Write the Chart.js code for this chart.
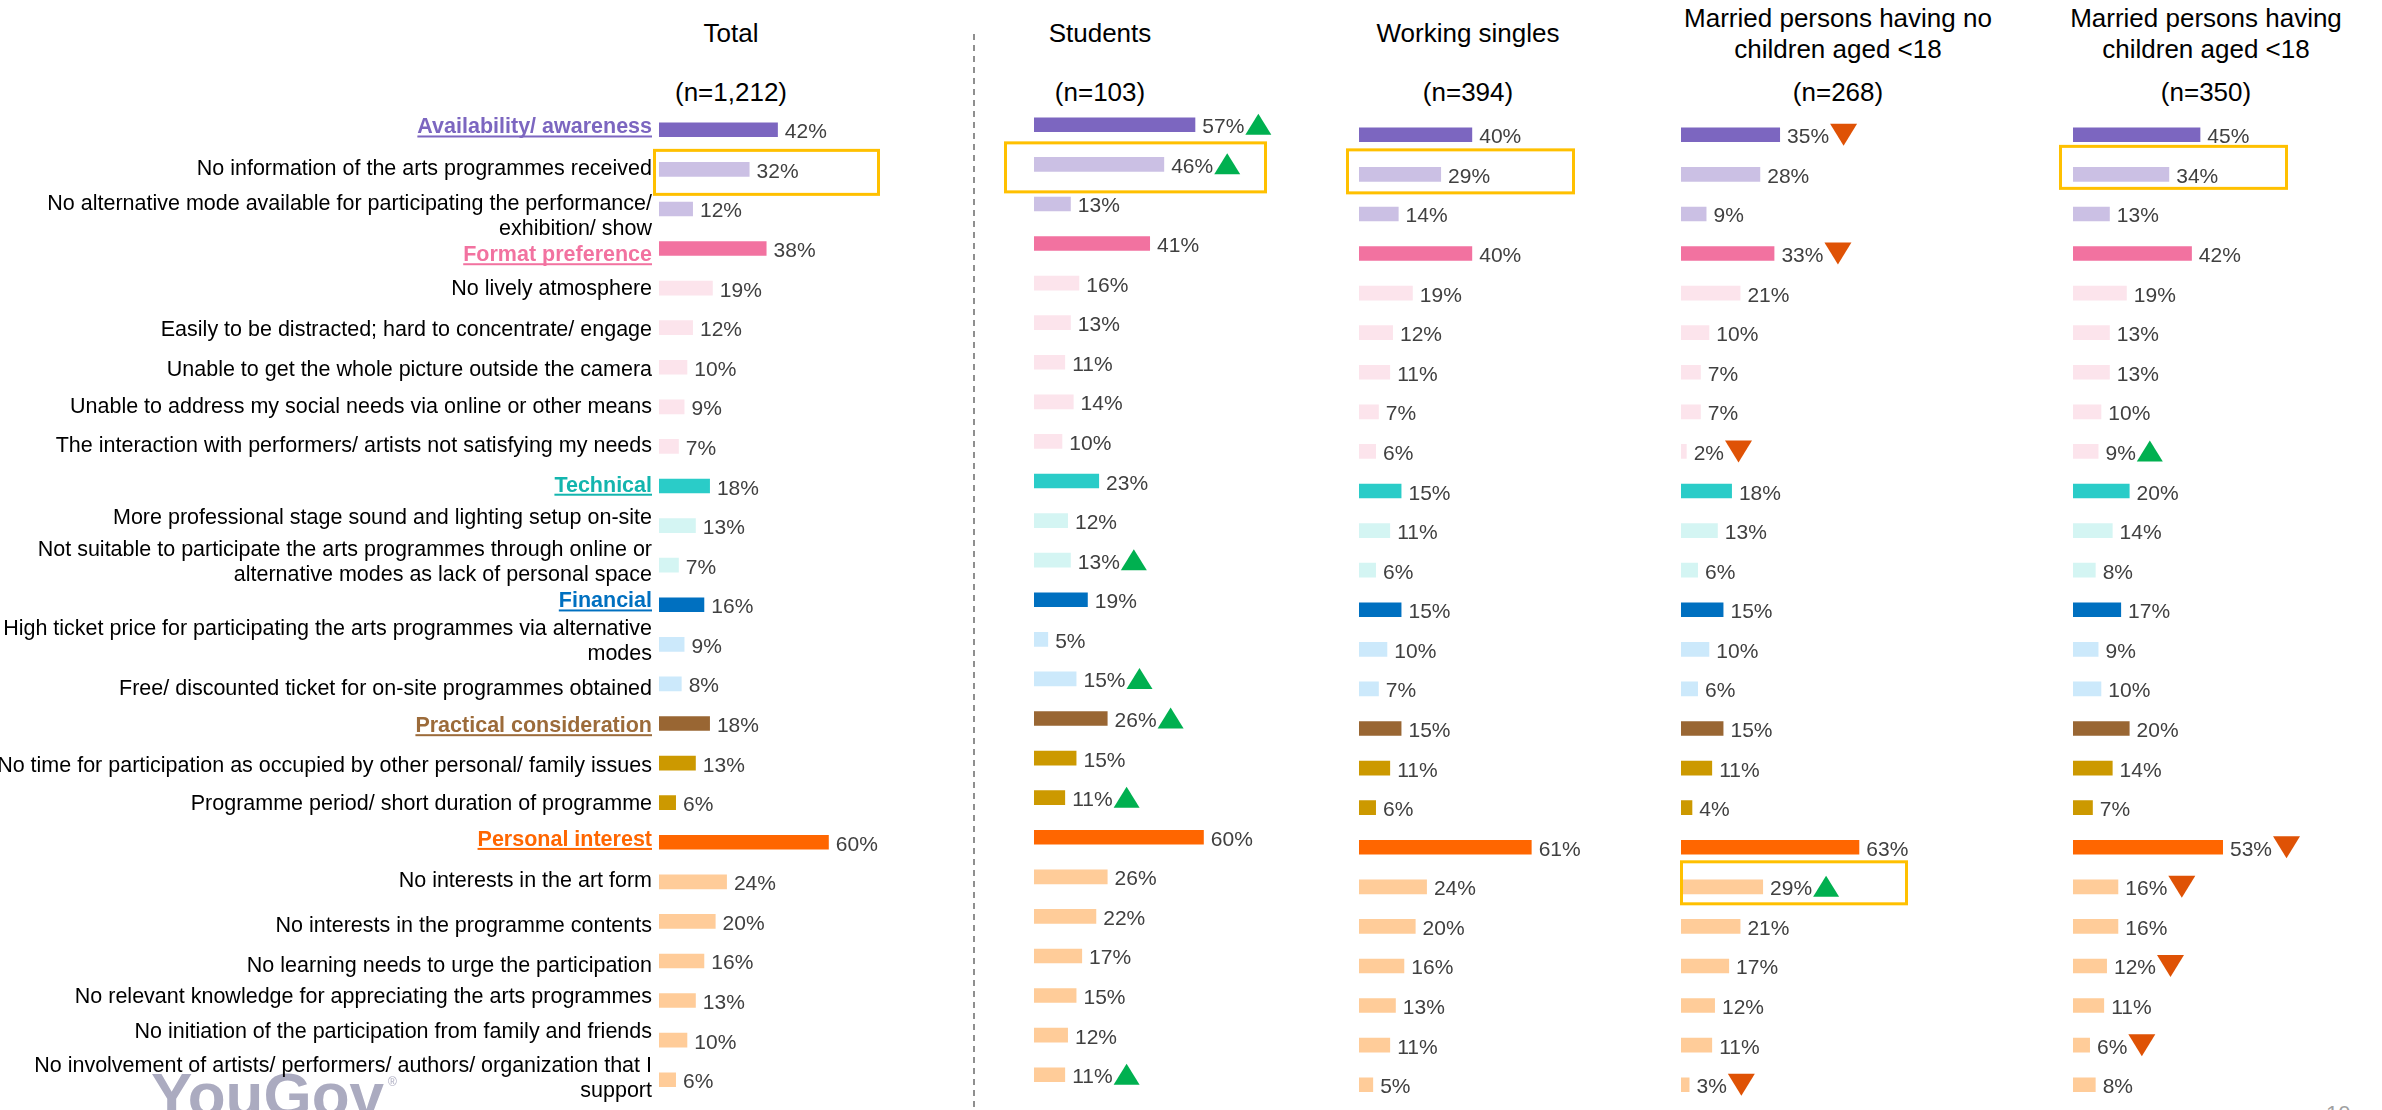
<!DOCTYPE html>
<html><head><meta charset="utf-8">
<script src="https://cdn.jsdelivr.net/npm/chart.js@4.4.1/dist/chart.umd.min.js"></script>
<style>
html,body{margin:0;padding:0;background:#fff;width:2382px;height:1110px;overflow:hidden;position:relative;font-family:"Liberation Sans",Arial,sans-serif;}
.panel{position:absolute;top:0;height:1110px;}
.ttl{position:absolute;width:440px;text-align:center;font-size:26px;line-height:31px;color:#000;white-space:nowrap;}
#divider{position:absolute;left:973px;top:34px;width:2px;height:1076px;background:repeating-linear-gradient(to bottom,#8f8f8f 0 6px,transparent 6px 11px);}
#pageno{position:absolute;left:2326px;top:1101px;font-size:22px;color:#a0a0a0;}
</style></head><body>
<div id="divider"></div>
<div id="pageno">10</div>
<script>
// ---------- DATA ----------
const categories = [
  "Availability/ awareness",
  "No information of the arts programmes received",
  ["No alternative mode available for participating the performance/", "exhibition/ show"],
  "Format preference",
  "No lively atmosphere",
  "Easily to be distracted; hard to concentrate/ engage",
  "Unable to get the whole picture outside the camera",
  "Unable to address my social needs via online or other means",
  "The interaction with performers/ artists not satisfying my needs",
  "Technical",
  "More professional stage sound and lighting setup on-site",
  ["Not suitable to participate the arts programmes through online or", "alternative modes as lack of personal space"],
  "Financial",
  ["High ticket price for participating the arts programmes via alternative", "modes"],
  "Free/ discounted ticket for on-site programmes obtained",
  "Practical consideration",
  "No time for participation as occupied by other personal/ family issues",
  "Programme period/ short duration of programme",
  "Personal interest",
  "No interests in the art form",
  "No interests in the programme contents",
  "No learning needs to urge the participation",
  "No relevant knowledge for appreciating the arts programmes",
  "No initiation of the participation from family and friends",
  ["No involvement of artists/ performers/ authors/ organization that I", "support"]
];
const headerRows = [0, 3, 9, 12, 15, 18];
const rowGroup = [0,0,0, 1,1,1,1,1,1, 2,2,2, 3,3,3, 4,4,4, 5,5,5,5,5,5,5];

const panelTitles = [["Total"], ["Students"], ["Working singles"],
  ["Married persons having no", "children aged <18"], ["Married persons having", "children aged <18"]];
const sampleSizes = ["(n=1,212)", "(n=103)", "(n=394)", "(n=268)", "(n=350)"];

const totalValues        = [42,32,12,38,19,12,10,9,7,18,13,7,16,9,8,18,13,6,60,24,20,16,13,10,6];
const studentValues      = [57,46,13,41,16,13,11,14,10,23,12,13,19,5,15,26,15,11,60,26,22,17,15,12,11];
const workingSingleValues= [40,29,14,40,19,12,11,7,6,15,11,6,15,10,7,15,11,6,61,24,20,16,13,11,5];
const marriedNoChildValues   = [35,28,9,33,21,10,7,7,2,18,13,6,15,10,6,15,11,4,63,29,21,17,12,11,3];
const marriedWithChildValues = [45,34,13,42,19,13,13,10,9,20,14,8,17,9,10,20,14,7,53,16,16,12,11,6,8];

// significance vs total: 1 = higher (up), -1 = lower (down)
const totalSig        = [0,0,0,0,0,0,0,0,0,0,0,0,0,0,0,0,0,0,0,0,0,0,0,0,0];
const studentSig      = [1,1,0,0,0,0,0,0,0,0,0,1,0,0,1,1,0,1,0,0,0,0,0,0,1];
const workingSingleSig= [0,0,0,0,0,0,0,0,0,0,0,0,0,0,0,0,0,0,0,0,0,0,0,0,0];
const marriedNoChildSig   = [-1,0,0,-1,0,0,0,0,-1,0,0,0,0,0,0,0,0,0,0,1,0,0,0,0,-1];
const marriedWithChildSig = [0,0,0,0,0,0,0,0,1,0,0,0,0,0,0,0,0,0,-1,-1,0,-1,0,-1,0];

const highlightRows = [1, 1, 1, 19, 1];

// ---------- STYLE ----------
const FONT = '"Liberation Sans", Arial, sans-serif';
const LABEL_PX = 21.5;
const headerColors = ['#7C66C0','#F272A0','#2ACCC8','#0070C0','#996633','#FF6600'];
const subColors    = ['#CBC0E4','#FCE4EC','#D4F5F3','#CCE9FB','#CC9900','#FFCC99'];
const headerTextColors = ['#7C66C0','#F272A0','#13B5AE','#0070C0','#9C6B3A','#FF6600'];
const barColors = categories.map((c, i) => headerRows.includes(i) ? headerColors[rowGroup[i]] : subColors[rowGroup[i]]);
// vertical nudge of each category label relative to its bar (px)
const labelNudge = [-4,-2.5,6,5,-0.5,1,1,-2,-2.5,-2,-9,-4,-5,-5,3,1,1,0,-4,-3,3,3,-5,-10,-3];

const plotWidth = 283, plotHeight = 989.5;
const panels = [
  {values: totalValues, sig: totalSig, left: 0, width: 960, padL: 659, top: 110, titleX: 731, box: {dx: -6, w: 227, h: 47, dy: 3}, labels: true, logo: true},
  {values: studentValues, sig: studentSig, left: 990, width: 330, padL: 44, top: 105, titleX: 1100, box: {dx: -30, w: 263, h: 52, dy: 3}},
  {values: workingSingleValues, sig: workingSingleSig, left: 1330, width: 330, padL: 29, top: 115, titleX: 1468, box: {dx: -13, w: 229, h: 46, dy: -3}},
  {values: marriedNoChildValues, sig: marriedNoChildSig, left: 1660, width: 350, padL: 21, top: 115, titleX: 1838, box: {dx: -1, w: 228, h: 45, dy: -4}},
  {values: marriedWithChildValues, sig: marriedWithChildSig, left: 2040, width: 342, padL: 33, top: 115, titleX: 2206, box: {dx: -14, w: 229, h: 45, dy: -7}}
];

// titles
panels.forEach((p, k) => {
  const t = panelTitles[k];
  const d = document.createElement('div');
  d.className = 'ttl';
  d.style.left = (p.titleX - 220) + 'px';
  d.style.top = (t.length === 1 ? 17.5 : 2.5) + 'px';
  d.innerHTML = t.join('<br>');
  document.body.appendChild(d);
  const n = document.createElement('div');
  n.className = 'ttl';
  n.style.left = (p.titleX - 220) + 'px';
  n.style.top = '76.5px';
  n.textContent = sampleSizes[k];
  document.body.appendChild(n);
});

const annot = {
  id: 'annot',
  beforeDraw(chart, args, o) {
    if (!o.logo) return;
    const ctx = chart.ctx;
    ctx.save();
    ctx.fillStyle = '#ABABC0';
    ctx.font = 'bold 62px ' + FONT;
    ctx.textBaseline = 'alphabetic';
    ctx.textAlign = 'left';
    ctx.fillText('YouGov', 151, 1116);
    ctx.font = '12px ' + FONT;
    ctx.fillText('®', 388, 1086);
    ctx.restore();
  },
  afterDatasetsDraw(chart, args, o) {
    const ctx = chart.ctx;
    const meta = chart.getDatasetMeta(0);
    const vals = chart.data.datasets[0].data;
    ctx.save();
    ctx.textBaseline = 'alphabetic';
    // value labels + significance markers
    ctx.font = '21px ' + FONT;
    vals.forEach((v, i) => {
      const el = meta.data[i];
      const txt = v + '%';
      ctx.fillStyle = '#404040';
      ctx.textAlign = 'left';
      ctx.fillText(txt, el.x + 7, el.y + 8.5);
      const s = o.sig[i];
      if (s) {
        const tx = el.x + 7 + ctx.measureText(txt).width + 1;
        const y = el.y;
        ctx.beginPath();
        if (s > 0) {
          ctx.fillStyle = '#00B050';
          ctx.moveTo(tx, y + 10); ctx.lineTo(tx + 13, y - 11); ctx.lineTo(tx + 26, y + 10);
        } else {
          ctx.fillStyle = '#DF5205';
          ctx.moveTo(tx, y - 11); ctx.lineTo(tx + 27, y - 11); ctx.lineTo(tx + 13.5, y + 11);
        }
        ctx.closePath(); ctx.fill();
      }
    });
    // category labels
    if (o.labels) {
      const xr = chart.chartArea.left - 7;
      const half = LABEL_PX * 0.358;
      ctx.textAlign = 'right';
      categories.forEach((lab, i) => {
        const y = meta.data[i].y + labelNudge[i];
        if (headerRows.includes(i)) {
          ctx.font = 'bold ' + LABEL_PX + 'px ' + FONT;
          ctx.fillStyle = headerTextColors[rowGroup[i]];
          ctx.fillText(lab, xr, y + half);
          const w = ctx.measureText(lab).width;
          ctx.fillRect(xr - w, y + half + 2, w, 2);
        } else {
          ctx.font = LABEL_PX + 'px ' + FONT;
          ctx.fillStyle = '#000';
          if (Array.isArray(lab)) {
            ctx.fillText(lab[0], xr, y - 12.5 + half);
            ctx.fillText(lab[1], xr, y + 12.5 + half);
          } else {
            ctx.fillText(lab, xr, y + half);
          }
        }
      });
    }
    // highlight box
    const b = o.box;
    const yb = meta.data[o.boxRow].y + b.dy;
    ctx.strokeStyle = '#FFC000';
    ctx.lineWidth = 3;
    ctx.strokeRect(chart.chartArea.left + b.dx + 1.5, yb - b.h / 2 + 1.5, b.w - 3, b.h - 3);
    ctx.restore();
  }
};

panels.forEach((p, k) => {
  const wrap = document.createElement('div');
  wrap.className = 'panel';
  wrap.style.left = p.left + 'px';
  wrap.style.width = p.width + 'px';
  const cv = document.createElement('canvas');
  cv.width = p.width; cv.height = 1110;
  cv.style.width = p.width + 'px'; cv.style.height = '1110px';
  wrap.appendChild(cv);
  document.body.appendChild(wrap);
  new Chart(cv.getContext('2d'), {
    type: 'bar',
    data: {
      labels: categories,
      datasets: [{data: p.values, backgroundColor: barColors, borderWidth: 0, barPercentage: 0.37, categoryPercentage: 1}]
    },
    options: {
      indexAxis: 'y',
      responsive: false,
      animation: false,
      devicePixelRatio: 1,
      layout: {padding: {left: p.padL, right: p.width - p.padL - plotWidth, top: p.top, bottom: 1110 - p.top - plotHeight}},
      scales: {
        x: {display: false, min: 0, max: 100},
        y: {display: false}
      },
      plugins: {
        legend: {display: false},
        tooltip: {enabled: false},
        annot: {sig: p.sig, box: p.box, boxRow: highlightRows[k], labels: !!p.labels, logo: !!p.logo}
      }
    },
    plugins: [annot]
  });
});
</script>
</body></html>
